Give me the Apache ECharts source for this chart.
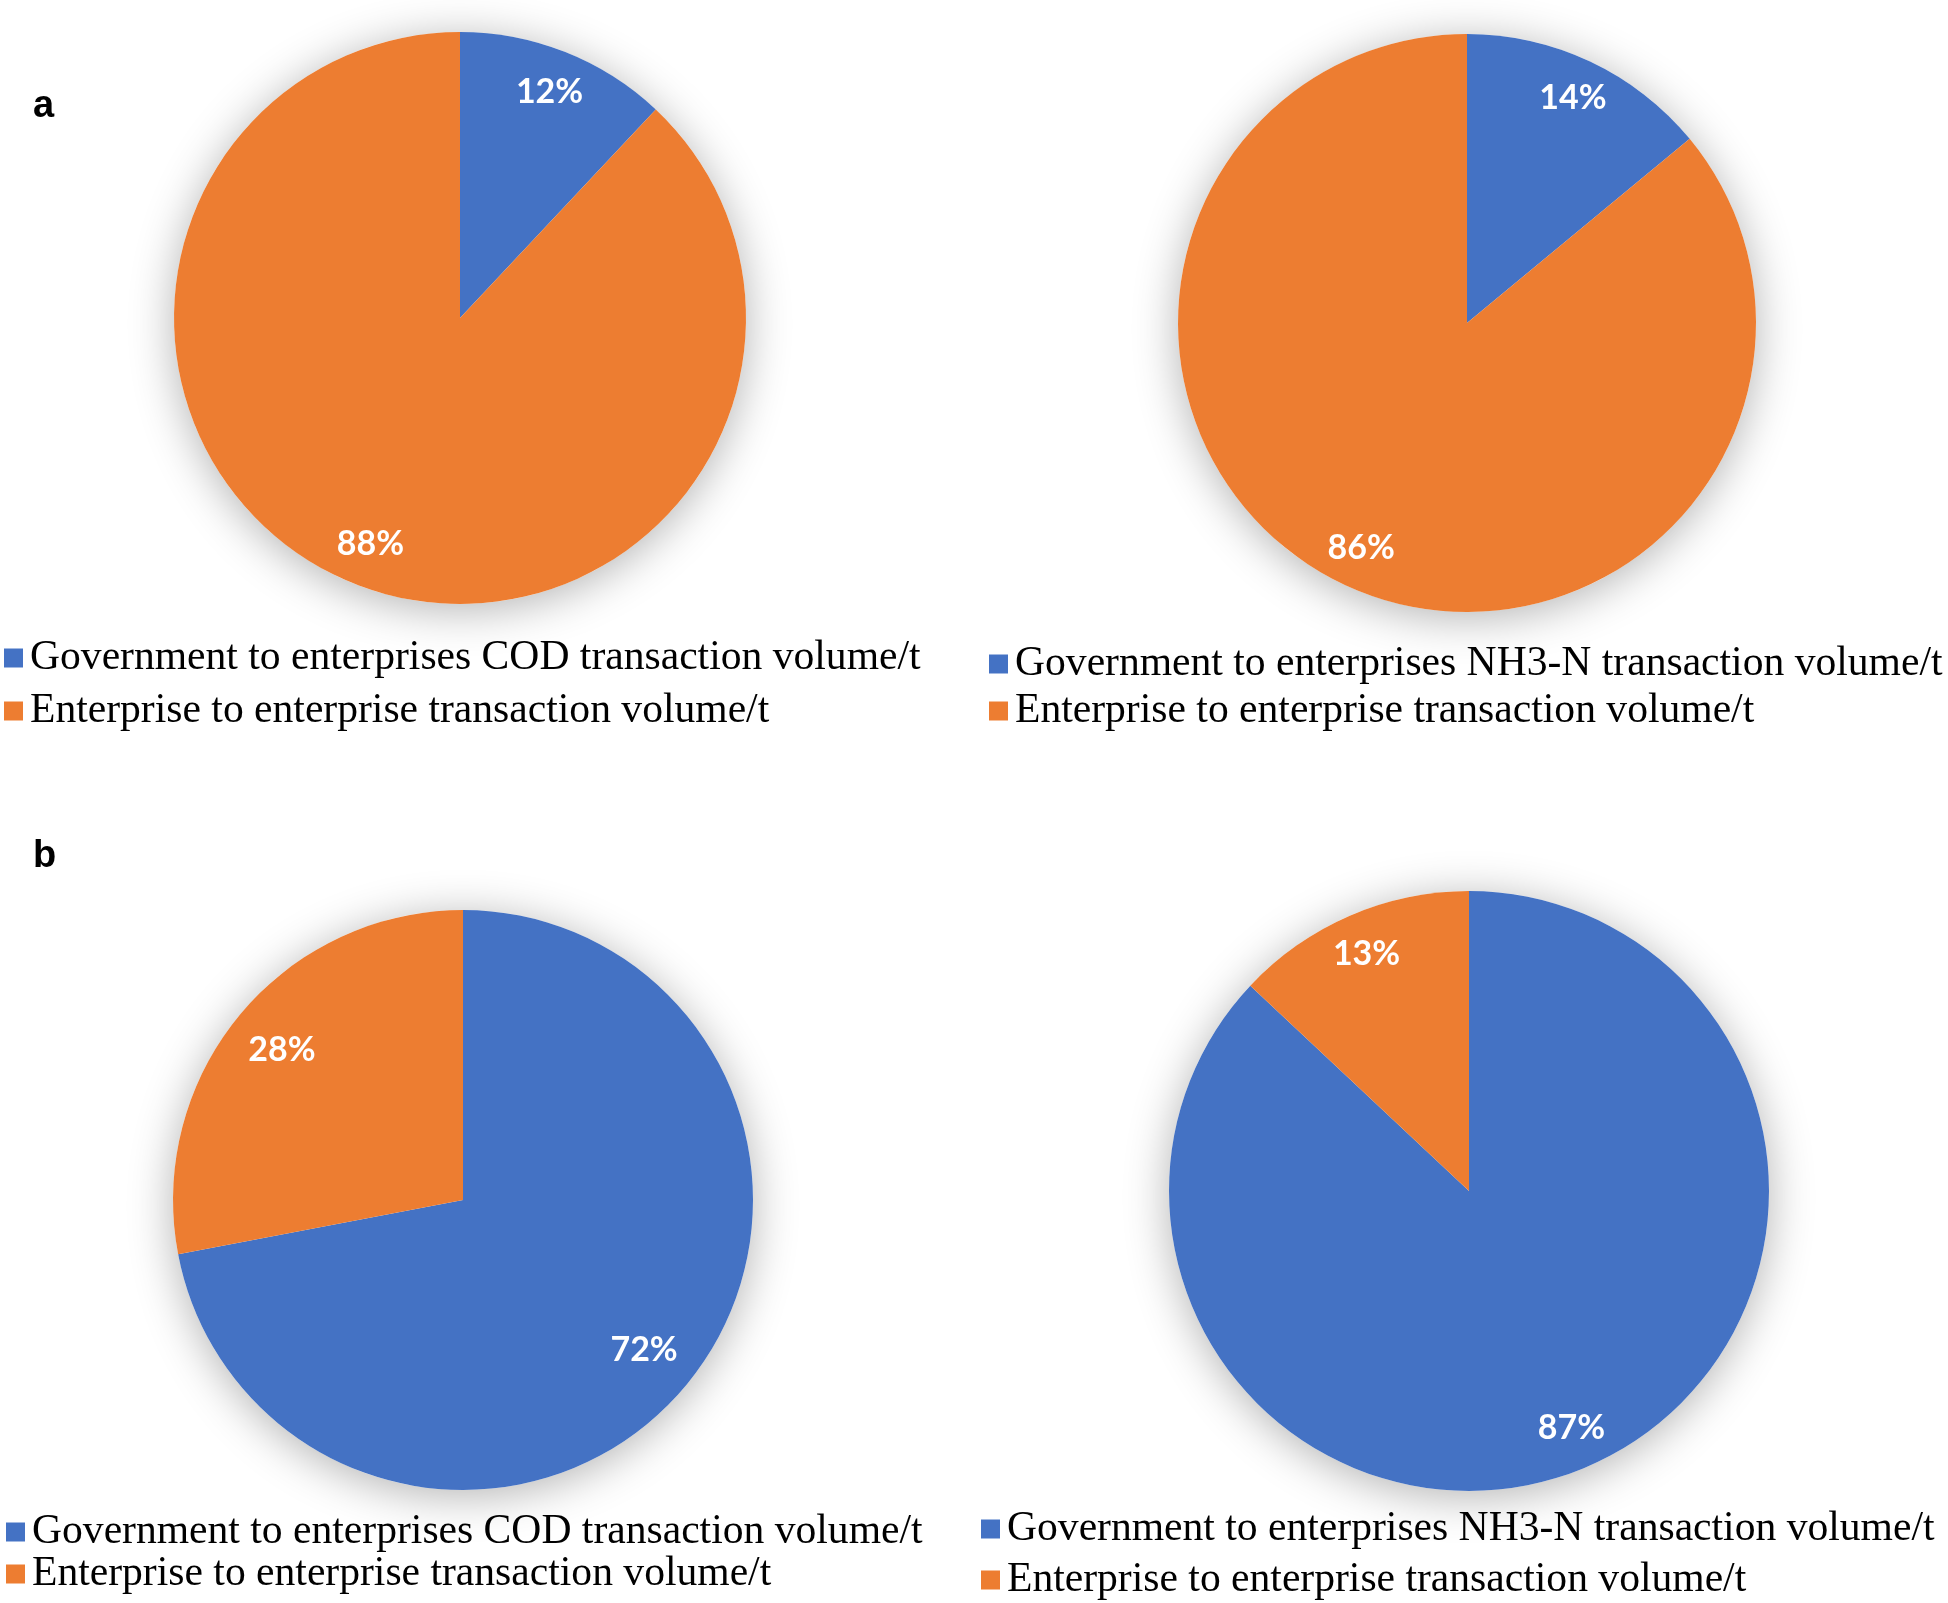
<!DOCTYPE html>
<html>
<head>
<meta charset="utf-8">
<script src="https://cdn.jsdelivr.net/npm/echarts@6/dist/echarts.min.js"></script>
<style>
html,body{margin:0;padding:0;background:#fff;}
#chart{width:1948px;height:1603px;}
</style>
</head>
<body>
<div id="chart"></div>
<script>
// ---- data ----
const namesCOD = ['Government to enterprises COD transaction volume/t', 'Enterprise to enterprise transaction volume/t'];
const namesNH3 = ['Government to enterprises NH3-N transaction volume/t', 'Enterprise to enterprise transaction volume/t'];
const valuesA_COD = [12, 88];
const valuesA_NH3 = [14, 86];
const valuesB_COD = [72, 28];
const valuesB_NH3 = [87, 13];
const panelLetters = ['a', 'b'];

const colors = ['#4472C4', '#ED7D31'];

const panels = [
  { names: namesCOD, values: valuesA_COD, center: [460, 318], r: 286, labelIn: 0.68,
    legend: { left: 4, top: 637, gap: 11 } },
  { names: namesNH3, values: valuesA_NH3, center: [1467, 323], r: 289, labelIn: 0.70,
    legend: { left: 989, top: 643, gap: 5 } },
  { names: namesCOD, values: valuesB_COD, center: [463, 1200], r: 290, labelIn: 0.60,
    legend: { left: 6, top: 1511, gap: 0 } },
  { names: namesNH3, values: valuesB_NH3, center: [1469, 1191], r: 300, labelIn: 0.70,
    legend: { left: 981, top: 1508, gap: 9 } }
];

const series = [];
const legends = [];
panels.forEach(function (p, i) {
  const data = p.names.map(function (n, k) { return { name: n, value: p.values[k] }; });
  const total = p.values.reduce(function (a, b) { return a + b; }, 0);
  // visible pie
  series.push({
    type: 'pie', name: 'pie' + i, center: p.center, radius: [0, p.r],
    startAngle: 90, clockwise: true, silent: true, z: 3,
    label: { show: false }, labelLine: { show: false },
    itemStyle: { borderWidth: 0 },
    color: colors,
    data: data
  });
  // shadow backdrop
  series.push({
    type: 'pie', name: 'shadow' + i, center: p.center, radius: [0, p.r],
    silent: true, z: 1,
    label: { show: false }, labelLine: { show: false },
    itemStyle: { color: '#ffffff', shadowBlur: 45, shadowOffsetY: 6, shadowColor: 'rgba(0,0,0,0.3)' },
    data: [{ name: '', value: total }]
  });
  // label ring overlay
  series.push({
    type: 'pie', name: 'lab' + i, center: p.center, radius: [p.r * p.labelIn, p.r],
    startAngle: 90, clockwise: true, silent: true, z: 4,
    itemStyle: { color: 'rgba(0,0,0,0)' },
    labelLine: { show: false },
    label: { show: true, position: 'inside', formatter: '{c}%', color: '#ffffff',
             fontFamily: 'Lato', fontSize: 34, fontWeight: 'bold' },
    data: data
  });
  legends.push({
    orient: 'vertical', left: p.legend.left, top: p.legend.top, itemGap: p.legend.gap,
    itemWidth: 19, itemHeight: 19, icon: 'rect', padding: 0, selectedMode: false,
    textStyle: { fontFamily: 'Liberation Serif', fontSize: 41.6, color: '#000', padding: [0, 0, 0, 2] },
    data: p.names
  });
});

const chart = echarts.init(document.getElementById('chart'), null, { renderer: 'canvas' });
chart.setOption({
  backgroundColor: '#ffffff',
  animation: false,
  title: [
    { text: panelLetters[0], left: 33, top: 88, padding: 0,
      textStyle: { fontFamily: 'Liberation Sans', fontWeight: 'bold', fontSize: 38, color: '#000' } },
    { text: panelLetters[1], left: 33, top: 838, padding: 0,
      textStyle: { fontFamily: 'Liberation Sans', fontWeight: 'bold', fontSize: 38, color: '#000' } }
  ],
  legend: legends,
  series: series
});
</script>
</body>
</html>
